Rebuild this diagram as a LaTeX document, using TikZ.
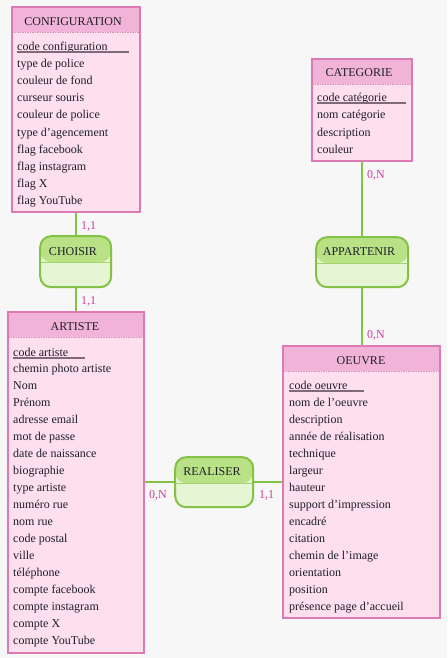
\documentclass[tikz,border=0pt]{standalone}
\usepackage{fontspec}
\setmainfont{Liberation Serif}
\definecolor{bg}{HTML}{F7F7F7}
\definecolor{entborder}{HTML}{DE7AB3}
\definecolor{enthead}{HTML}{F1B4D8}
\definecolor{entbody}{HTML}{FDDFEE}
\definecolor{entdash}{HTML}{D590BC}
\definecolor{relborder}{HTML}{84C246}
\definecolor{relhead}{HTML}{B9E287}
\definecolor{relbody}{HTML}{E6F5D3}
\definecolor{reldiv}{HTML}{A3D56E}
\definecolor{card}{HTML}{D03E9E}
\definecolor{txt}{HTML}{1E1E2A}
\definecolor{ulc}{HTML}{7E6B77}
\tikzset{
  entity/.style={rectangle, inner sep=0pt, anchor=north west, fill=entbody,
    path picture={\fill[enthead] (path picture bounding box.north west) rectangle ([yshift=-25pt]path picture bounding box.north east);
      \draw[entdash, line width=0.8pt, dash pattern=on 1.5pt off 1pt] ([yshift=-25pt]path picture bounding box.north west) -- ([yshift=-25pt]path picture bounding box.north east);},
    postaction={draw=entborder, line width=2pt}},
  relation/.style={rectangle, rounded corners=11pt, inner sep=0pt, anchor=north west, fill=relbody,
    path picture={\fill[relhead] (path picture bounding box.north west) rectangle ([yshift=-26pt]path picture bounding box.north east);
      \draw[reldiv, line width=1pt] ([yshift=-26pt]path picture bounding box.north west) -- ([yshift=-26pt]path picture bounding box.north east);},
    postaction={draw=relborder, line width=2pt}},
  attr/.style={inner sep=0pt, anchor=base west, text=txt, font=\fontsize{12}{14}\selectfont},
  title/.style={inner sep=0pt, anchor=base, text=txt, font=\fontsize{12}{14}\selectfont},
  cardlbl/.style={inner sep=0pt, anchor=base west, text=card, font=\fontsize{12}{14}\selectfont},
  ul/.style={draw=ulc, line width=2pt},
  link/.style={draw=relborder, line width=2pt}
}
\begin{document}
\begin{tikzpicture}[x=1pt,y=-1pt]
\fill[bg] (0,0) rectangle (447,658);
\useasboundingbox (0,0) rectangle (447,658);

% connectors (drawn first, behind boxes)
\coordinate (confS) at (76,212);
\coordinate (choN) at (76,236);
\coordinate (choS) at (76,287);
\coordinate (artN) at (76,312);
\coordinate (catS) at (362,161);
\coordinate (appN) at (362,237);
\coordinate (appS) at (362,287);
\coordinate (oeuN) at (362,346);
\coordinate (artE) at (144,482);
\coordinate (reaW) at (175,482);
\coordinate (reaE) at (253,482);
\coordinate (oeuW) at (283,482);
\draw[link] (confS) -- (choN);
\draw[link] (choS) -- (artN);
\draw[link] (catS) -- (appN);
\draw[link] (appS) -- (oeuN);
\draw[link] (artE) -- (reaW);
\draw[link] (reaE) -- (oeuW);

% CONFIGURATION
\node[entity, minimum width=128pt, minimum height=205pt] (conf) at (12,7) {};
\node[title] (conf-t) at (73,26) {CONFIGURATION};
\foreach \t [count=\i] in {code configuration, type de police, couleur de fond, curseur souris, couleur de police, type d’agencement, flag facebook, flag instagram, flag X, flag YouTube}
  \node[attr] (conf-a\i) at (17,{51+17*(\i-1)}) {\t};
\draw[ul] (17,52.5) -- (129,52.5);

% CATEGORIE
\node[entity, minimum width=100pt, minimum height=102pt] (cat) at (312,59) {};
\node[title] (cat-t) at (359,77) {CATEGORIE};
\foreach \t [count=\i] in {code catégorie, nom catégorie, description, couleur}
  \node[attr] (cat-a\i) at (317,{102+17*(\i-1)}) {\t};
\draw[ul] (317,103.5) -- (406,103.5);

% ARTISTE
\node[entity, minimum width=136pt, minimum height=341pt] (art) at (8,312) {};
\node[title] (art-t) at (75,330) {ARTISTE};
\foreach \t [count=\i] in {code artiste, chemin photo artiste, Nom, Prénom, adresse email, mot de passe, date de naissance, biographie, type artiste, numéro rue, nom rue, code postal, ville, téléphone, compte facebook, compte instagram, compte X, compte YouTube}
  \node[attr] (art-a\i) at (13,{356+16.95*(\i-1)}) {\t};
\draw[ul] (13,357.5) -- (85,357.5);

% OEUVRE
\node[entity, minimum width=157pt, minimum height=272pt] (oeu) at (283,346) {};
\node[title] (oeu-t) at (361,364) {OEUVRE};
\foreach \t [count=\i] in {code oeuvre, nom de l’oeuvre, description, année de réalisation, technique, largeur, hauteur, support d’impression, encadré, citation, chemin de l’image, orientation, position, présence page d’accueil}
  \node[attr] (oeu-a\i) at (289,{389+17*(\i-1)}) {\t};
\draw[ul] (289,391) -- (364,391);

% relations
\node[relation, minimum width=71pt, minimum height=51pt] (cho) at (40,236) {};
\node[title] (cho-t) at (73,255) {CHOISIR};
\node[relation, minimum width=92pt, minimum height=50pt] (app) at (316,237) {};
\node[title] (app-t) at (359,255) {APPARTENIR};
\node[relation, minimum width=78pt, minimum height=50pt] (rea) at (175,457) {};
\node[title] (rea-t) at (212,475) {REALISER};

% cardinalities
\node[cardlbl] (c1) at (81,229) {1,1};
\node[cardlbl] (c2) at (81,304) {1,1};
\node[cardlbl] (c3) at (367,178) {0,N};
\node[cardlbl] (c4) at (367,338) {0,N};
\node[cardlbl] (c5) at (149,498) {0,N};
\node[cardlbl] (c6) at (259,498) {1,1};
\end{tikzpicture}
\end{document}
